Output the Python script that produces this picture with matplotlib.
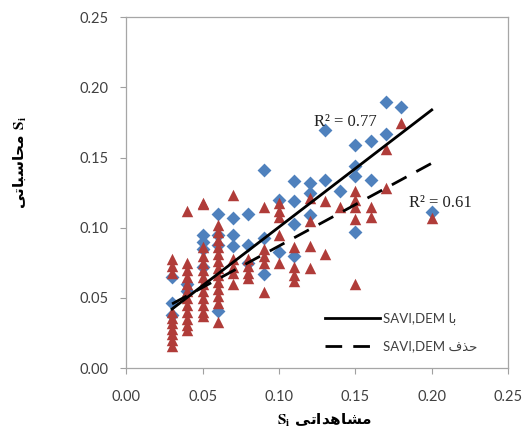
import numpy as np
import matplotlib
matplotlib.use("Agg")
import matplotlib.pyplot as plt

plt.rcParams['mathtext.fontset'] = 'stix'

# blue diamonds - with SAVI,DEM
blue_x = [0.03, 0.03, 0.03, 0.04, 0.04,
          0.05, 0.05, 0.05, 0.05, 0.06, 0.06, 0.06, 0.06,
          0.07, 0.07, 0.07, 0.08, 0.08, 0.08, 0.09, 0.09, 0.09,
          0.10, 0.10, 0.11, 0.11, 0.11, 0.11, 0.12, 0.12, 0.12,
          0.13, 0.13, 0.14, 0.15, 0.15, 0.15, 0.15, 0.16, 0.16,
          0.17, 0.17, 0.18, 0.20]
blue_y = [0.065, 0.046, 0.038, 0.060, 0.055,
          0.095, 0.090, 0.085, 0.072, 0.110, 0.095, 0.088, 0.041,
          0.107, 0.095, 0.087, 0.110, 0.088, 0.075, 0.141, 0.093, 0.067,
          0.120, 0.083, 0.133, 0.119, 0.103, 0.080, 0.132, 0.125, 0.109,
          0.170, 0.134, 0.126, 0.159, 0.144, 0.137, 0.097, 0.162, 0.134,
          0.190, 0.167, 0.186, 0.111]

# red triangles - without SAVI,DEM
red_x = ([0.03] * 10 + [0.04] * 12 + [0.05] * 13 + [0.06] * 13 +
         [0.07] * 5 + [0.08] * 4 + [0.09] * 5 + [0.10] * 5 + [0.11] * 4 +
         [0.12] * 4 + [0.13] * 2 + [0.14] + [0.15] * 5 + [0.16] * 2 +
         [0.17] * 2 + [0.18] + [0.20])
red_y = [0.078, 0.073, 0.068, 0.040, 0.036, 0.032, 0.028, 0.024, 0.020, 0.016,
         0.112, 0.075, 0.070, 0.065, 0.060, 0.055, 0.050, 0.045, 0.040, 0.035, 0.031, 0.027,
         0.118, 0.117, 0.086, 0.080, 0.075, 0.070, 0.065, 0.060, 0.055, 0.050, 0.045, 0.040, 0.037,
         0.102, 0.097, 0.091, 0.086, 0.081, 0.076, 0.071, 0.066, 0.061, 0.056, 0.051, 0.046, 0.033,
         0.123, 0.078, 0.072, 0.068, 0.060,
         0.078, 0.073, 0.068, 0.064,
         0.115, 0.085, 0.080, 0.075, 0.054,
         0.118, 0.112, 0.108, 0.095, 0.075,
         0.086, 0.072, 0.066, 0.062,
         0.121, 0.105, 0.087, 0.071,
         0.119, 0.081,
         0.115,
         0.126, 0.120, 0.115, 0.106, 0.060,
         0.115, 0.108,
         0.156, 0.128,
         0.175,
         0.107]

# trend lines (slope, intercept)
fit_with = (0.835, 0.017)
fit_without = (0.59, 0.028)
fit_range = [0.03, 0.20]

ticks = [0.0, 0.05, 0.10, 0.15, 0.20, 0.25]

# persian text, written as shaped presentation forms in visual order
ba = '\uFE8E\uFE91'                       # با
hazf = '\uFED1\uFEAC\uFEA3'               # حذف
mohasebati = '\uFEF0\uFE97\uFE8E\uFE92\uFEB3\uFE8E\uFEA4\uFEE3'   # محاسباتی
moshahedati = '\uFEF0\uFE97\uFE8D\uFEAA\uFEEB\uFE8E\uFEB8\uFEE3'  # مشاهداتی

fig = plt.figure(figsize=(5.26, 4.45), dpi=100)
ax = fig.add_axes([0.24, 0.173, 0.726, 0.788])

ax.scatter(blue_x, blue_y, marker='D', s=50, color='#4F81BD', linewidths=0, zorder=2)
ax.scatter(red_x, red_y, marker='^', s=68, color='#B03C39', linewidths=0, zorder=3)

xs = np.array(fit_range)
ax.plot(xs, fit_with[0] * xs + fit_with[1], color='black', lw=2,
        label='SAVI,DEM ' + ba, zorder=4)
ax.plot(xs, fit_without[0] * xs + fit_without[1], color='black', lw=2,
        dashes=(6, 4), label='SAVI,DEM ' + hazf, zorder=4)

ax.text(0.123, 0.1755, 'R\u00b2 = 0.77', family='Liberation Serif', fontsize=12,
        color='#222222', va='center', zorder=5)
ax.text(0.185, 0.118, 'R\u00b2 = 0.61', family='Liberation Serif', fontsize=12,
        color='#222222', va='center', zorder=5)

ax.set_xlim(0, 0.25)
ax.set_ylim(0, 0.25)
ax.set_xticks(ticks)
ax.set_yticks(ticks)
ax.set_xticklabels(['%.2f' % t for t in ticks])
ax.set_yticklabels(['%.2f' % t for t in ticks])
for lab in ax.get_xticklabels() + ax.get_yticklabels():
    lab.set_family('Lato')
    lab.set_fontsize(10.5)
    lab.set_color('#404040')
ax.tick_params(direction='out', length=4, color='#A0A0A0', width=0.8)
ax.tick_params(axis='x', pad=12)
ax.tick_params(axis='y', pad=9)
for sp in ax.spines.values():
    sp.set_color('#A6A6A6')
    sp.set_linewidth(0.9)

ax.set_xlabel(r'$\mathbf{S_i}$ ' + moshahedati, family='DejaVu Sans',
              fontweight='bold', fontsize=11)
ax.xaxis.set_label_coords(0.52, -0.125)
ax.set_ylabel(mohasebati + r' $\mathbf{S_i}$', family='DejaVu Sans',
              fontweight='bold', fontsize=11)
ax.yaxis.set_label_coords(-0.257, 0.585)

leg = ax.legend(loc='lower right', bbox_to_anchor=(0.95, 0.01), frameon=False,
                prop={'family': ['Lato', 'DejaVu Sans'], 'size': 9.5},
                handlelength=4.2, handletextpad=0.2, labelspacing=1.2)
for t in leg.get_texts():
    t.set_color('#404040')

fig.savefig('out.png', dpi=100)
